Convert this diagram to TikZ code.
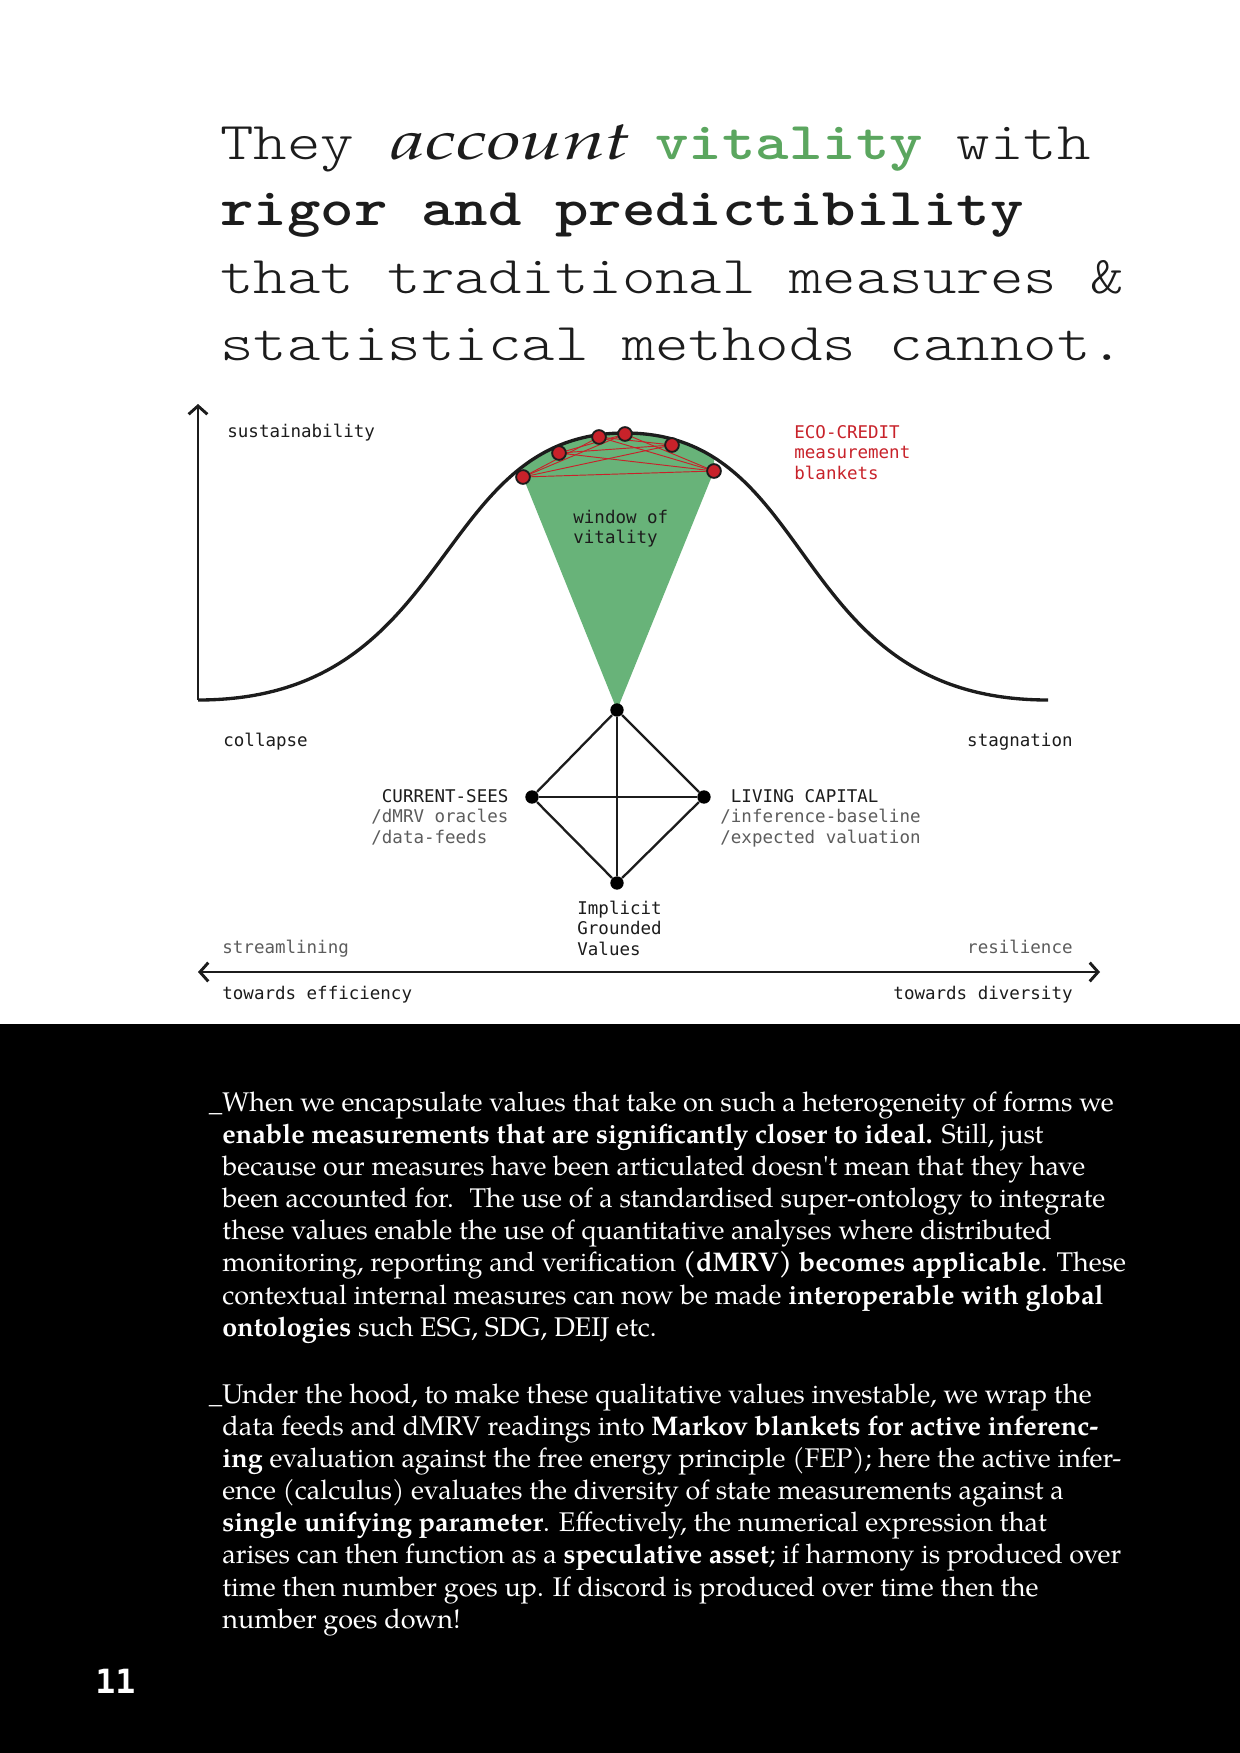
\documentclass[tikz,border=0pt]{standalone}
\usepackage{fontspec}
\usepackage{graphicx}
\usetikzlibrary{arrows.meta}

% Fonts
\newfontfamily\pagella{texgyrepagella-regular.otf}[BoldFont=texgyrepagella-bold.otf, ItalicFont=texgyrepagella-italic.otf]
\newfontfamily\headfont{lmmonolt10-regular.otf}[BoldFont=lmmonolt10-bold.otf, FakeStretch=1.2]
\newfontfamily\labfont{DejaVu Sans Mono}

% Colours
\definecolor{vitfill}{RGB}{104,179,121}
\definecolor{vittext}{RGB}{91,166,95}
\definecolor{blanketred}{RGB}{200,34,42}
\definecolor{ink}{RGB}{28,28,28}

\tikzset{
  head/.style={font=\headfont\fontsize{25.5}{30}\selectfont, text=ink, inner sep=0pt, anchor=base west},
  lab/.style={font=\labfont\fontsize{8.4}{9.85}\selectfont, text=ink, inner sep=0pt},
  labthin/.style={lab, text=ink!72},
  body/.style={font=\pagella\fontsize{12.95}{15.45}\selectfont, text=white, inner sep=0pt, anchor=base west},
  axisline/.style={draw=ink, line width=1.4pt},
  barb/.tip={Straight Barb[length=4pt,width=9pt]},
  bell/.style={draw=ink, line width=1.6pt},
  edge/.style={draw=ink, line width=1.1pt},
  blanket/.style={draw=blanketred, line width=0.45pt},
  reddot/.style={circle, fill=blanketred, draw=ink, line width=0.9pt, minimum size=6.6pt, inner sep=0pt},
  blackdot/.style={circle, fill=black, minimum size=6.4pt, inner sep=0pt},
}

\begin{document}
\begin{tikzpicture}[x=0.48pt, y=-0.48pt]
\useasboundingbox (0,0) rectangle (1240,1753);
\fill[white] (0,0) rectangle (1240,1024);
\fill[black] (0,1024) rectangle (1240,1753);

% ---------- heading ----------
\node[head] (h1) at (220,159) {They \rlap{\hspace{2pt}\raisebox{0pt}{\pagella\itshape\fontsize{26}{30}\selectfont\scalebox{1.4}[1]{account}}}\hphantom{account} {\bfseries\color{vittext}vitality} with};
\node[head] (h2) at (220,225) {\bfseries rigor and predictibility};
\node[head] (h3) at (220,293) {that traditional measures \&};
\node[head] (h4) at (220,360) {statistical methods cannot.};

% ---------- sustainability curve ----------
\coordinate (yorigin) at (198,700);
\coordinate (ytop) at (198,404);
\coordinate (peak) at (625,433);
\coordinate (cend) at (1048,700);

% measurement blanket points on the curve
\coordinate (d1) at (523,477);
\coordinate (d2) at (559,453);
\coordinate (d3) at (599,437);
\coordinate (d4) at (625,434);
\coordinate (d5) at (672,445);
\coordinate (d6) at (714,471);

% apex of the window, shared with the top of the diamond
\coordinate (apex) at (617,710);

% window of vitality (green), bounded above by the curve
\begin{scope}
  \clip (yorigin) .. controls (458,700) and (430,433) .. (peak)
        .. controls (820,433) and (788,700) .. (cend) -- (1048,760) -- (198,760) -- cycle;
  \fill[vitfill] (apex) -- (d1) -- (523,400) -- (714,400) -- (d6) -- cycle;
\end{scope}

% blanket links
\foreach \a/\b in {d1/d3,d1/d4,d1/d5,d1/d6,d2/d4,d2/d5,d2/d6,d3/d5,d3/d6,d4/d6}
  \draw[blanket] (\a) -- (\b);

% axis and curve
\draw[axisline, -barb] (yorigin) -- (ytop);
\draw[bell] (yorigin) .. controls (458,700) and (430,433) .. (peak)
            .. controls (820,433) and (788,700) .. (cend);

\foreach \p in {d1,d2,d3,d4,d5,d6}
  \node[reddot] (dot-\p) at (\p) {};

% diamond of values
\node[blackdot] (vtop) at (apex) {};
\node[blackdot] (vleft) at (532,797) {};
\node[blackdot] (vright) at (704,797) {};
\node[blackdot] (vbot) at (617,883) {};

\draw[edge] (vtop) -- (vleft);
\draw[edge] (vtop) -- (vright);
\draw[edge] (vleft) -- (vbot);
\draw[edge] (vright) -- (vbot);
\draw[edge] (vleft) -- (vright);
\draw[edge] (vtop) -- (vbot);

% horizontal axis
\coordinate (xleft) at (198,972);
\coordinate (xright) at (1100,972);
\draw[axisline, barb-barb] (xleft) -- (xright);

% ---------- labels ----------
\node[lab, anchor=base west] (lsust) at (227,437) {sustainability};
\node[lab, anchor=base west, text=blanketred] (leco) at (794,438) {\vtop{\hbox{ECO-CREDIT}\hbox{measurement}\hbox{blankets}}};
\node[lab, anchor=base west] (lwin) at (573,523) {\vtop{\hbox{window of}\hbox{vitality}}};
\node[lab, anchor=base west] (lcol) at (223,746) {collapse};
\node[lab, anchor=base east] (lstag) at (1073,746) {stagnation};
\node[lab, anchor=base west] (lcur) at (371,802) {\vtop{\hbox{\phantom{/}CURRENT-SEES}\hbox{\color{ink!72}/dMRV oracles}\hbox{\color{ink!72}/data-feeds}}};
\node[lab, anchor=base west] (lliv) at (720,802) {\vtop{\hbox{\phantom{/}LIVING CAPITAL}\hbox{\color{ink!72}/inference-baseline}\hbox{\color{ink!72}/expected valuation}}};
\node[lab, anchor=base west] (limp) at (577,914) {\vtop{\hbox{Implicit}\hbox{Grounded}\hbox{Values}}};
\node[labthin, anchor=base west] (lstream) at (222,953) {streamlining};
\node[labthin, anchor=base east] (lres) at (1073,953) {resilience};
\node[lab, anchor=base west] (leff) at (222,999) {towards efficiency};
\node[lab, anchor=base east] (ldiv) at (1073,999) {towards diversity};

% ---------- body text ----------
\node[body] (p1) at (222,1111) {\vtop{%
\hbox{\llap{\_}When we encapsulate values that take on such a heterogeneity of forms we}
\hbox{\textbf{enable measurements that are significantly closer to ideal.} Still, just}
\hbox{because our measures have been articulated doesn{\char"27}t mean that they have}
\hbox{been accounted for.~ The use of a standardised super-ontology to integrate}
\hbox{these values enable the use of quantitative analyses where distributed}
\hbox{monitoring, reporting and verification \textbf{(dMRV) becomes applicable}. These}
\hbox{contextual internal measures can now be made \textbf{interoperable with global}}
\hbox{\textbf{ontologies} such ESG, SDG, DEIJ etc.}}};

\node[body] (p2) at (222,1403) {\vtop{%
\hbox{\llap{\_}Under the hood, to make these qualitative values investable, we wrap the}
\hbox{data feeds and dMRV readings into \textbf{Markov blankets for active inferenc-}}
\hbox{\textbf{ing} evaluation against the free energy principle (FEP); here the active infer-}
\hbox{ence (calculus) evaluates the diversity of state measurements against a}
\hbox{\textbf{single unifying parameter}. Effectively, the numerical expression that}
\hbox{arises can then function as a \textbf{speculative asset}; if harmony is produced over}
\hbox{time then number goes up. If discord is produced over time then the}
\hbox{number goes down!}}};

\node[font=\labfont\bfseries\fontsize{16}{18}\selectfont, text=white, inner sep=0pt, anchor=base west] (pagenum) at (95,1693) {11};
\end{tikzpicture}
\end{document}
